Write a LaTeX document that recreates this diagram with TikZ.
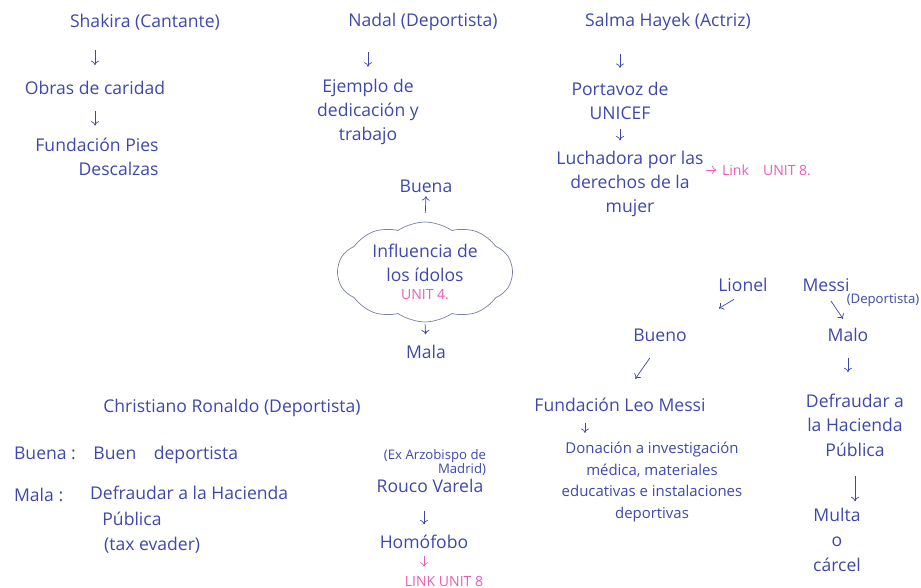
\documentclass[tikz,border=0pt]{standalone}
\usepackage{fontspec}
\setmainfont{Open Sans}
\usetikzlibrary{shapes.symbols,calc,arrows.meta}
\definecolor{ink}{RGB}{62,72,172}
\definecolor{pinkink}{RGB}{236,92,182}
\definecolor{cloudline}{RGB}{118,128,162}
\begin{document}
\begin{tikzpicture}[x=0.02cm,y=-0.02cm,
		txt/.style={text=ink,font=\fontsize{10}{13.6}\selectfont,inner sep=1pt,align=center},
		sml/.style={text=ink,font=\fontsize{7.5}{8}\selectfont,inner sep=1pt,align=right},
		lnk/.style={text=pinkink,font=\fontsize{8}{9}\selectfont,inner sep=1pt},
		arr/.style={draw=ink,thin,-{To[length=2.5pt,width=4.5pt]}},
		pkarr/.style={draw=pinkink,thin,-{To[length=2.5pt,width=4.5pt]}}]
	\useasboundingbox (0,0) rectangle (921,588);
	\node[txt] (shak) at (145,22) {Shakira (Cantante)};
	\node[txt] (obras) at (95,88) {Obras de caridad};
	\node[txt,align=right] (pies) at (97,157) {Fundación Pies\\Descalzas};
	\draw[arr,shorten <=10pt,shorten >=8pt] (shak.south -| obras) -- (obras.north);
	\draw[arr,shorten <=8pt,shorten >=6pt] (obras.south) -- (obras.south |- pies.north);
	\node[txt] (nadal) at (423,22) {Nadal (Deportista)};
	\node[txt] (eje) at (368,112) {Ejemplo de\\dedicación y\\trabajo};
	\draw[arr,shorten <=11pt,shorten >=6pt] (nadal.south -| eje) -- (eje.north);
	\node[txt] (salma) at (668,22) {Salma Hayek (Actriz)};
	\node[txt] (uni) at (620,101) {Portavoz de\\UNICEF};
	\node[txt] (lucha) at (630,184) {Luchadora por las\\derechos de la\\mujer};
	\draw[arr,shorten <=12pt,shorten >=7pt] (salma.south -| uni) -- (uni.north);
	\draw[arr,shorten <=4pt,shorten >=5pt] (uni.south) -- (uni.south |- lucha.north);
	\node[lnk,anchor=west] (link) at (720,170) {Link\quad UNIT 8.};
	\draw[pkarr,shorten <=0pt,shorten >=2pt] (lucha.east |- link.west) -- (link.west);
	\node[cloud,draw=cloudline,cloud puffs=10,cloud puff arc=70,cloud ignores aspect,
		minimum width=3.5cm,minimum height=2cm,txt] (idol) at (425,272)
		{Influencia de\\los ídolos\\[-3pt]\textcolor{pinkink}{\fontsize{8}{9}\selectfont UNIT 4.}};
	\node[txt] (buena) at (426,186) {Buena};
	\node[txt] (mala) at (426,352) {Mala};
	\draw[arr,shorten <=5pt,shorten >=1pt] (idol.north) -- (buena.south);
	\draw[arr,shorten <=1pt,shorten >=5pt] (idol.south) -- (mala.north);
	\node[txt] (lionel) at (743,285) {Lionel};
	\node[txt] (messi) at (826,285) {Messi};
	\node[sml] (dep) at (883,300) {(Deportista)};
	\node[txt] (bueno) at (660,335) {Bueno};
	\node[txt] (malo) at (848,335) {Malo};
	\draw[arr,shorten <=6pt,shorten >=20pt] (lionel.south) -- (bueno.north east);
	\draw[arr,shorten <=5pt,shorten >=5pt] (messi.south) -- (malo.north);
	\node[txt] (leo) at (620,405) {Fundación Leo Messi};
	\node[txt,font=\fontsize{8.5}{12.3}\selectfont] (don) at (652,482) {Donación a investigación\\médica, materiales\\educativas e instalaciones\\deportivas};
	\draw[arr,shorten <=10pt,shorten >=12pt] (bueno.south) -- (leo.70);
	\coordinate (leoarr) at ($(leo.south west)!0.3!(leo.south east)$);
	\draw[arr,shorten <=5pt,shorten >=4pt] (leoarr) -- (leoarr |- don.north);
	\node[txt,font=\fontsize{10}{14}\selectfont] (defr) at (855,425) {Defraudar a\\la Hacienda\\Pública};
	\node[txt,font=\fontsize{10}{14}\selectfont] (multa) at (837,540) {Multa\\o\\cárcel};
	\draw[arr,shorten <=8pt,shorten >=11pt] (malo.south) -- (malo.south |- defr.north);
	\draw[arr,shorten <=10pt,shorten >=3pt] (defr.south) -- (defr.south |- multa.north);
	\node[txt] (cr) at (232,408) {Christiano Ronaldo (Deportista)};
	\node[txt,anchor=west] (crbuena) at (12,455) {Buena :\quad Buen\quad deportista};
	\node[txt,anchor=west] (crmala) at (12,495) {Mala :};
	\node[txt,anchor=north west,align=left,font=\fontsize{10}{14.5}\selectfont] (crmalatxt) at (88,484)
		{Defraudar a la Hacienda\\\hspace{7pt}Pública\\\hspace{8pt}(tax evader)};
	\node[sml] (ex) at (435,463) {(Ex Arzobispo de\\Madrid)};
	\node[txt] (rouco) at (430,486) {Rouco Varela};
	\node[txt] (homo) at (424,542) {Homófobo};
	\node[lnk] (link2) at (444,581) {LINK UNIT 8};
	\draw[arr,shorten <=9pt,shorten >=5pt] (rouco.south -| homo) -- (homo.north);
	\draw[pkarr,shorten <=3pt,shorten >=4pt] (homo.south) -- (homo.south |- link2.north);
\end{tikzpicture}
\end{document}
